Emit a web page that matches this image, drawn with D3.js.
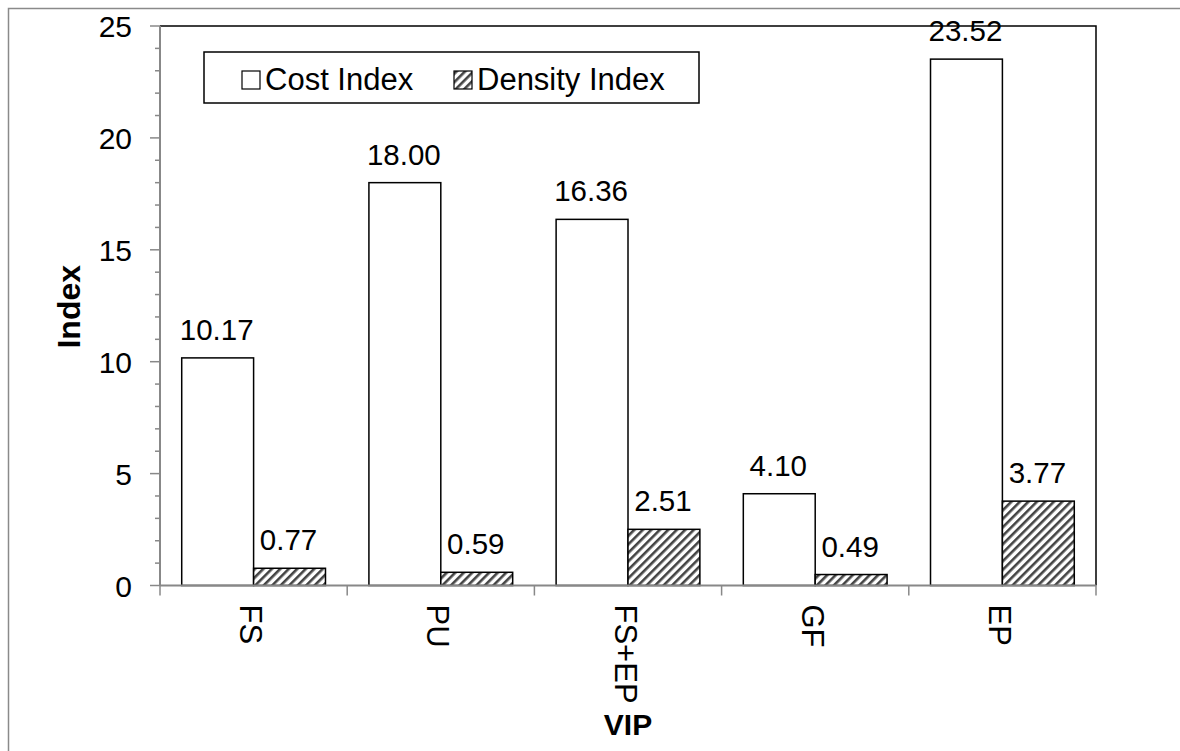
<!DOCTYPE html>
<html>
<head>
<meta charset="utf-8">
<script src="https://cdn.jsdelivr.net/npm/d3@7"></script>
<style>
  html, body { margin: 0; padding: 0; background: #fff; }
  svg { display: block; font-family: "Liberation Sans", Arial, sans-serif; }
</style>
</head>
<body>
<svg id="chart" width="1180" height="751"></svg>
<script>
// VIP variants and their indices
const categories = ["FS", "PU", "FS+EP", "GF", "EP"];
const seriesNames = ["Cost Index", "Density Index"];
const costIndex = [10.17, 18.00, 16.36, 4.10, 23.52];
const densityIndex = [0.77, 0.59, 2.51, 0.49, 3.77];
const yTicks = [0, 5, 10, 15, 20, 25];

const svg = d3.select("#chart");
const plot = { left: 160, right: 1096, top: 26, bottom: 585.5 };

// Hatch pattern for the density bars
const defs = svg.append("defs");
const pat = defs.append("pattern")
  .attr("id", "hatch")
  .attr("patternUnits", "userSpaceOnUse")
  .attr("width", 6).attr("height", 6)
  .attr("patternTransform", "rotate(45)");
pat.append("rect").attr("width", 6).attr("height", 6).attr("fill", "#fff");
pat.append("rect").attr("x", 0).attr("y", 0).attr("width", 2.6).attr("height", 6).attr("fill", "#444");

// Outer frame around the whole figure
svg.append("rect")
  .attr("x", 8.5).attr("y", 8.5)
  .attr("width", 1200).attr("height", 800)
  .attr("fill", "none").attr("stroke", "#8a8a8a").attr("stroke-width", 1.5);

const x0 = d3.scaleBand().domain(categories).range([plot.left, plot.right]).padding(0);
const step = x0.step();
const x1 = d3.scaleBand().domain(seriesNames).range([step * 0.116, step * 0.884]).padding(0);
const y = d3.scaleLinear().domain([0, 25]).range([plot.bottom, plot.top]);

// Plot area border (top and right)
svg.append("path")
  .attr("d", `M${plot.left},${plot.top}H${plot.right}V${plot.bottom}`)
  .attr("fill", "none").attr("stroke", "#000").attr("stroke-width", 1.5);

const rows = categories.map((c, i) => ({ cat: c, values: [
  { key: seriesNames[0], v: costIndex[i] },
  { key: seriesNames[1], v: densityIndex[i] }
]}));

const groups = svg.append("g").selectAll("g").data(rows).join("g")
  .attr("transform", d => `translate(${x0(d.cat)},0)`);

groups.selectAll("rect").data(d => d.values).join("rect")
  .attr("x", d => x1(d.key))
  .attr("y", d => y(d.v))
  .attr("width", x1.bandwidth())
  .attr("height", d => y(0) - y(d.v))
  .attr("fill", d => d.key === seriesNames[0] ? "#fff" : "url(#hatch)")
  .attr("stroke", "#000").attr("stroke-width", 1.5);

groups.selectAll("text").data(d => d.values).join("text")
  .attr("x", d => x1(d.key) + x1.bandwidth() / 2 - 1)
  .attr("y", d => y(d.v) - 18)
  .attr("text-anchor", "middle")
  .attr("font-size", 29.5)
  .attr("fill", "#000")
  .text(d => d.v.toFixed(2));

// Y axis
const yAxis = svg.append("g");
yAxis.append("line")
  .attr("x1", plot.left).attr("x2", plot.left)
  .attr("y1", plot.top).attr("y2", plot.bottom)
  .attr("stroke", "#888").attr("stroke-width", 2);
yAxis.selectAll("line.minor").data(d3.range(0, 26)).join("line")
  .attr("class", "minor")
  .attr("x1", d => d % 5 === 0 ? plot.left - 10 : plot.left - 5)
  .attr("x2", plot.left)
  .attr("y1", d => y(d)).attr("y2", d => y(d))
  .attr("stroke", "#888").attr("stroke-width", 1.5);
yAxis.selectAll("text").data(yTicks).join("text")
  .attr("x", 132)
  .attr("y", d => y(d) + 11)
  .attr("text-anchor", "end")
  .attr("font-size", 30)
  .attr("fill", "#000")
  .text(d => d);

// X axis
const xAxis = svg.append("g");
xAxis.append("line")
  .attr("x1", plot.left).attr("x2", plot.right)
  .attr("y1", plot.bottom).attr("y2", plot.bottom)
  .attr("stroke", "#888").attr("stroke-width", 2);
xAxis.selectAll("line.tick").data(d3.range(0, categories.length + 1)).join("line")
  .attr("class", "tick")
  .attr("x1", d => plot.left + d * step).attr("x2", d => plot.left + d * step)
  .attr("y1", plot.bottom).attr("y2", plot.bottom + 10)
  .attr("stroke", "#888").attr("stroke-width", 1.5);
xAxis.selectAll("text").data(categories).join("text")
  .attr("transform", d => `translate(${x0(d) + step / 2 - 13.5},${plot.bottom + 19}) rotate(90)`)
  .attr("text-anchor", "start")
  .attr("font-size", 31)
  .attr("fill", "#000")
  .text(d => d);

// Axis titles
svg.append("text")
  .attr("x", (plot.left + plot.right) / 2)
  .attr("y", 735)
  .attr("text-anchor", "middle")
  .attr("font-size", 30).attr("font-weight", "bold")
  .text("VIP");
svg.append("text")
  .attr("transform", `translate(80,${(plot.top + plot.bottom) / 2 + 1}) rotate(-90)`)
  .attr("text-anchor", "middle")
  .attr("font-size", 32).attr("font-weight", "bold")
  .text("Index");

// Legend
const legend = svg.append("g");
legend.append("rect")
  .attr("x", 204).attr("y", 52).attr("width", 495).attr("height", 51)
  .attr("fill", "#fff").attr("stroke", "#000").attr("stroke-width", 1.5);
const legendItems = [
  { name: seriesNames[0], fill: "#fff", sx: 242, tx: 265 },
  { name: seriesNames[1], fill: "url(#hatch)", sx: 454, tx: 477 }
];
legend.selectAll("rect.sw").data(legendItems).join("rect")
  .attr("class", "sw")
  .attr("x", d => d.sx).attr("y", 71)
  .attr("width", 18).attr("height", 18)
  .attr("fill", d => d.fill).attr("stroke", "#000").attr("stroke-width", 1.2);
legend.selectAll("text").data(legendItems).join("text")
  .attr("x", d => d.tx).attr("y", 90)
  .attr("font-size", 31)
  .attr("fill", "#000")
  .text(d => d.name);
</script>
</body>
</html>
